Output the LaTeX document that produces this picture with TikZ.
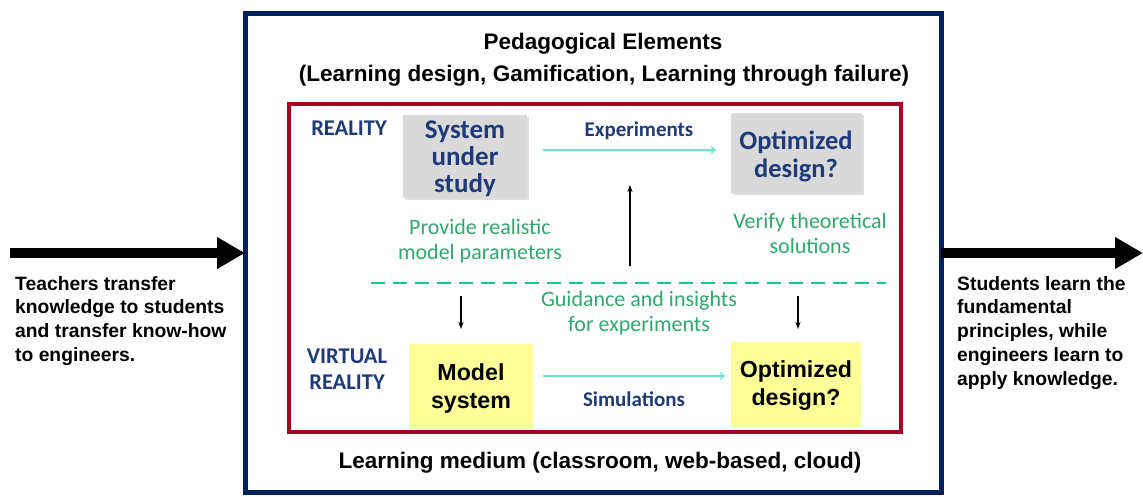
\documentclass[tikz,border=0pt]{standalone}
\usepackage{fontspec}
\setmainfont{Liberation Sans}
\newfontfamily\calfont{Carlito}
\usetikzlibrary{arrows.meta,shadows}
\definecolor{navy}{HTML}{002060}
\definecolor{dred}{HTML}{A50021}
\definecolor{lblue}{HTML}{1F3A78}
\definecolor{gfill}{HTML}{D9D9D9}
\definecolor{yfill}{HTML}{FFFF99}
\definecolor{gtext}{HTML}{2EA86B}
\definecolor{dashc}{HTML}{1BC79A}
\definecolor{cyanarr}{HTML}{6FE3C9}
\tikzset{
  side/.style={font=\bfseries\fontsize{19.3}{23.8}\selectfont, align=left, anchor=north west, inner sep=0},
  title/.style={font=\bfseries\fontsize{22.5}{26}\selectfont, inner sep=0},
  graybox/.style={fill=gfill, draw=none, drop shadow={shadow xshift=2pt, shadow yshift=-2pt, fill=black!25}, minimum width=124pt, minimum height=83pt, font=\calfont\bfseries\fontsize{27}{27}\selectfont, text=lblue, align=center, inner sep=0},
  yelbox/.style={fill=yfill, draw=none, minimum width=124pt, minimum height=85pt, font=\bfseries\fontsize{23.2}{28}\selectfont, align=center, inner sep=0},
  lab/.style={font=\calfont\bfseries\fontsize{21}{25}\selectfont, text=lblue, align=center, inner sep=0},
  biglab/.style={font=\calfont\bfseries\fontsize{22.5}{26}\selectfont, text=lblue, align=center, inner sep=0},
  glab/.style={font=\calfont\fontsize{22}{25}\selectfont, text=gtext, align=center, inner sep=0},
  bigarrow/.style={line width=10pt, -{Triangle[width=30pt,length=28pt]}},
  thinarrow/.style={line width=1.3pt, -{Stealth[length=7pt,width=5pt]}},
  cyarrow/.style={cyanarr, line width=1.3pt, -{To[length=5pt,width=8pt]}},
}
\begin{document}
\begin{tikzpicture}[x=1pt,y=-1pt]
\useasboundingbox (0,0) rectangle (1143,496);
% outer boxes
\draw[navy, line width=5pt] (245,13) rectangle (941,492);
\draw[dred, line width=3.5pt] (289,104) rectangle (901,432);
% titles
\node[title] (t1) at (603,44) {Pedagogical Elements};
\node[title] (t2) at (604,76) {(Learning design, Gamification, Learning through failure)};
\node[title] (t3) at (600,463) {Learning medium (classroom, web-based, cloud)};
% side arrows
\coordinate (lstart) at (10,253);
\coordinate (lend) at (245,253);
\coordinate (rstart) at (941,253);
\coordinate (rend) at (1143,253);
\draw[bigarrow] (lstart) -- (lend);
\draw[bigarrow] (rstart) -- (rend);
\node[side] (ltext) at (15,276) {Teachers transfer\\knowledge to students\\and transfer know-how\\to engineers.};
\node[side] (rtext) at (957,276) {Students learn the\\fundamental\\principles, while\\engineers learn to\\apply knowledge.};
% boxes
\node[graybox] (sys) at (465,156) {};
\node[lblue, font=\calfont\bfseries\fontsize{27}{27}\selectfont, align=center, inner sep=0] (syst) at (465,159) {System\\under\\study};
\node[graybox, minimum width=131pt, minimum height=80pt] (opt1) at (796,153) {};
\node[lblue, font=\calfont\bfseries\fontsize{26.5}{28}\selectfont, align=center, inner sep=0] (opt1t) at (796,156) {Optimized\\design?};
\node[yelbox] (mod) at (471,386) {};
\node[font=\bfseries\fontsize{23.2}{28}\selectfont, align=center, inner sep=0] (modt) at (471,388) {Model\\system};
\node[yelbox, minimum width=130pt] (opt2) at (796,384) {};
\node[font=\bfseries\fontsize{23.2}{28}\selectfont, align=center, inner sep=0] (opt2t) at (796,386) {Optimized\\design?};
% labels
\node[biglab] (real) at (349,128) {REALITY};
\node[biglab] (vreal) at (347,369) {VIRTUAL\\REALITY};
\node[lab] (exp) at (639,131) {Experiments};
\node[lab] (sim) at (634,399) {Simulations};
\node[glab] (prov) at (480,241) {Provide realistic\\model parameters};
\node[glab] (ver) at (810,233) {Verify theoretical\\solutions};
\node[glab] (guid) at (639,313) {Guidance and insights\\for experiments};
% arrows
\coordinate (e1) at (543,150);
\coordinate (e2) at (716,150);
\draw[cyarrow] (e1) -- (e2);
\coordinate (s1) at (543,376);
\coordinate (s2) at (725,376);
\draw[cyarrow] (s1) -- (s2);
% dashed line
\coordinate (d1) at (371,283);
\coordinate (d2) at (886,283);
\draw[dashc, line width=2pt, dash pattern=on 14pt off 8pt] (d1) -- (d2);
% vertical arrows
\coordinate (u1) at (630,266);
\coordinate (u2) at (630,185);
\draw[thinarrow] (u1) -- (u2);
\coordinate (a1) at (461,296);
\coordinate (a2) at (461,329);
\draw[thinarrow] (a1) -- (a2);
\coordinate (b1) at (798,296);
\coordinate (b2) at (798,329);
\draw[thinarrow] (b1) -- (b2);
\end{tikzpicture}
\end{document}
